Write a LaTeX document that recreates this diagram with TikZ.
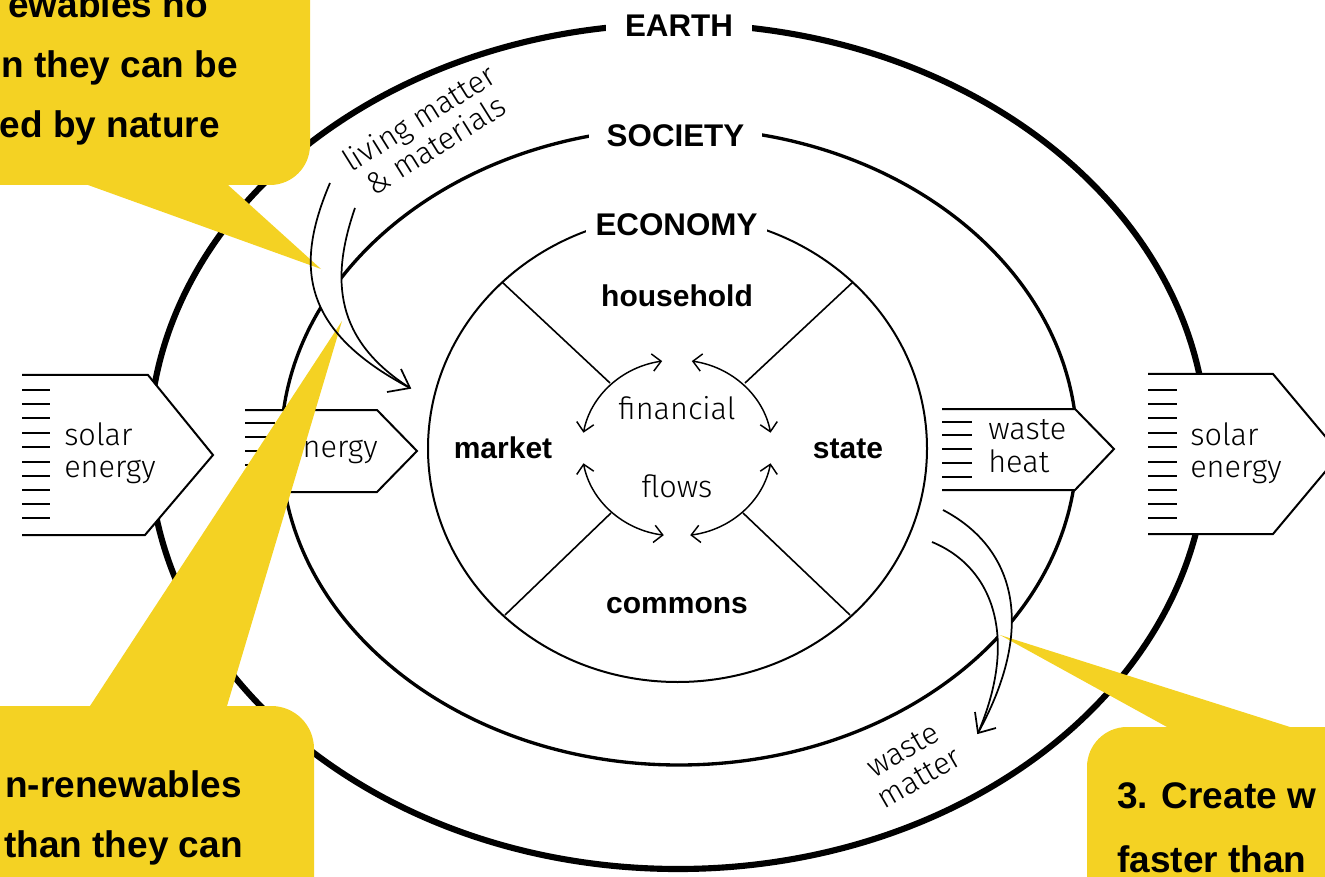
\documentclass[tikz,border=0pt]{standalone}
\usepackage{fontspec}
\setmainfont{Liberation Sans}
\IfFontExistsTF{Fira Sans Book}{\newfontfamily\lightf{Fira Sans Book}}{%
  \IfFontExistsTF{Fira Sans Light}{\newfontfamily\lightf{Fira Sans Light}}{\newfontfamily\lightf{Fira Sans}}}
\usetikzlibrary{arrows.meta}
\definecolor{calloutyellow}{RGB}{244,210,35}
\begin{document}
\begin{tikzpicture}[x=0.75pt,y=-0.75pt,
  earthline/.style={line width=4.6pt},
  socline/.style={line width=2.5pt},
  ecoline/.style={line width=1.5pt},
  divline/.style={line width=1.2pt},
  boxline/.style={line width=1.5pt, line join=miter},
  flowline/.style={line width=1.3pt, line join=miter},
  ringlabel/.style={font=\bfseries\fontsize{23.5}{26}\selectfont, fill=white, inner ysep=2pt, anchor=base},
  sector/.style={font=\bfseries\fontsize{22.5}{25}\selectfont, inner sep=0pt, anchor=base},
  lighttext/.style={font=\lightf\fontsize{23}{24}\selectfont, inner sep=0pt},
  callouttext/.style={font=\bfseries\fontsize{27.75}{30}\selectfont, inner sep=0pt},
  bubble/.style={fill=calloutyellow},
  dblarrow/.style={line width=1.1pt, {Straight Barb[length=6.5pt,width=13pt]}-{Straight Barb[length=6.5pt,width=13pt]}},
]
\path[use as bounding box] (0,0) rectangle (1325,877);
\clip (0,0) rectangle (1325,877);

% rings
\draw[earthline] (678,446.5) ellipse [x radius=529, y radius=422.5];
\draw[socline] (679,446.5) ellipse [x radius=398, y radius=318.5];
\draw[ecoline] (677.5,448.5) ellipse [x radius=249.5, y radius=233.5];

\node[ringlabel, inner xsep=14pt] (earth) at (679,37) {EARTH};
\node[ringlabel, inner xsep=13pt] (society) at (675.5,147) {SOCIETY};
\node[ringlabel, inner xsep=7pt] (economy) at (676.5,236) {ECONOMY};

% sector dividers
\draw[divline] (502,282) -- (610,383);
\draw[divline] (853,282) -- (745,383);
\draw[divline] (505,615) -- (611,513);
\draw[divline] (850,615) -- (743,513);

% financial flows
\coordinate (fc) at (677,448);
\draw[dblarrow] ([shift={(fc)}]-170:95 and 88) arc[start angle=-170, end angle=-99, x radius=95, y radius=88];
\draw[dblarrow] ([shift={(fc)}]-81:95 and 88) arc[start angle=-81, end angle=-10, x radius=95, y radius=88];
\draw[dblarrow] ([shift={(fc)}]170:95 and 88) arc[start angle=170, end angle=98, x radius=95, y radius=88];
\draw[dblarrow] ([shift={(fc)}]82:95 and 88) arc[start angle=82, end angle=10, x radius=95, y radius=88];

\node[sector] (household) at (677,307) {household};
\node[sector] (market) at (503,458) {market};
\node[sector] (state) at (848,458) {state};
\node[sector] (commons) at (677,613) {commons};
\node[lighttext, anchor=base] (financial) at (677,419) {financial};
\node[lighttext, anchor=base] (flows) at (677,497) {flows};

% left solar energy
\draw[boxline, fill=white] (22,375) -- (148,375) -- (213,455) -- (145,535) -- (22,535);
\foreach \yy in {390,404,418,433,447,462,476,490,504,518} \draw[boxline] (22,\yy) -- (50,\yy);
\node[lighttext, anchor=base west] (solarL1) at (64,445) {solar};
\node[lighttext, anchor=base west] (solarL2) at (64,477) {energy};

% energy into economy
\draw[boxline, fill=white] (245,410) -- (377,410) -- (417,451) -- (377,492) -- (245,492);
\foreach \yy in {423,437,451,465,479} \draw[boxline] (245,\yy) -- (275,\yy);
\node[lighttext, anchor=base west] (energyM) at (286,457) {energy};

% waste heat
\draw[boxline, fill=white] (942,409) -- (1075,409) -- (1114,449) -- (1075,490) -- (942,490);
\foreach \yy in {422,435,449,463,477} \draw[boxline] (942,\yy) -- (972,\yy);
\node[lighttext, anchor=base west] (waste1) at (988,440) {waste};
\node[lighttext, anchor=base west] (waste2) at (988,472) {heat};

% right solar energy
\draw[boxline, fill=white] (1148,374) -- (1273,374) -- (1340,454) -- (1273,534) -- (1148,534);
\foreach \yy in {390,404,418,433,447,462,476,490,504,518} \draw[boxline] (1148,\yy) -- (1177,\yy);
\node[lighttext, anchor=base west] (solarR1) at (1190,445) {solar};
\node[lighttext, anchor=base west] (solarR2) at (1190,477) {energy};

% material flow arrows (white bodies)
\coordinate (lmA) at (330,183);
\coordinate (lmB) at (355,208);
\coordinate (lmT) at (410,388);
\fill[white] (lmA) .. controls (295,265) and (300,330) .. (lmT) .. controls (335,340) and (330,280) .. (lmB) -- cycle;
\coordinate (wmA) at (943,510);
\coordinate (wmB) at (932,542);
\coordinate (wmT) at (978,733);
\fill[white] (wmA) .. controls (1010,545) and (1040,620) .. (wmT) .. controls (1018,640) and (995,568) .. (wmB) -- cycle;

\node[lighttext, align=center, rotate=32] (living) at (427,131) {living matter\\\& materials};
\node[lighttext, align=center, rotate=30] (wastematter) at (911,764) {waste\\matter};

% callouts
\fill[bubble, rounded corners=30pt] (-60,-60) rectangle (310,185);
\fill[bubble] (88,185) -- (321,269) -- (228,185) -- (228,178) -- (88,178) -- cycle;
\node[callouttext, anchor=base east] (c1a) at (208,18) {ewables no};
\node[callouttext, anchor=base east] (c1b) at (238,78) {n they can be};
\node[callouttext, anchor=base east] (c1c) at (220,138) {ed by nature};

\fill[bubble, rounded corners=32pt] (-60,706) rectangle (314,960);
\fill[bubble] (90,706) -- (342,321) -- (227,706) -- (227,714) -- (90,714) -- cycle;
\node[callouttext, anchor=base east] (c2a) at (242,797) {n-renewables};
\node[callouttext, anchor=base east] (c2b) at (243,857) {than they can};

\fill[bubble, rounded corners=30pt] (1087,727) rectangle (1400,960);
\fill[bubble] (1167,727) -- (1000,635) -- (1290,727) -- (1290,734) -- (1167,734) -- cycle;
\node[callouttext, anchor=base west] (c3a) at (1117,808) {3. Create w};
\node[callouttext, anchor=base west] (c3b) at (1117,872) {faster than};

% arrow outlines on top
\draw[flowline] (lmA) .. controls (295,265) and (300,330) .. (lmT);
\draw[flowline] (lmB) .. controls (330,280) and (335,340) .. (lmT);
\draw[flowline] (401,369) -- (lmT) -- (387,392);
\draw[flowline] (wmA) .. controls (1010,545) and (1040,620) .. (wmT);
\draw[flowline] (wmB) .. controls (995,568) and (1018,640) .. (wmT);
\draw[flowline] (975,712) -- (wmT) -- (996,728);
\end{tikzpicture}
\end{document}
